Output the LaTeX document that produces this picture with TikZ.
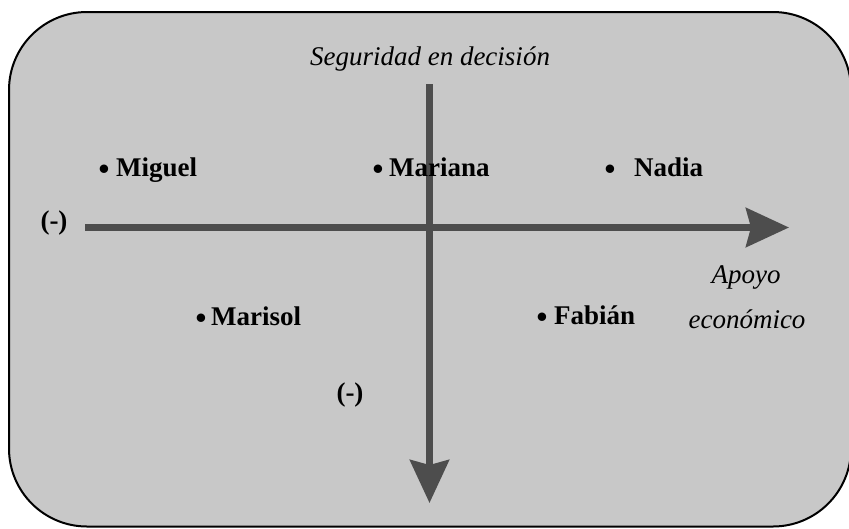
\documentclass[tikz,border=0pt]{standalone}
\usepackage{fontspec}
\setmainfont{Liberation Serif}
\usetikzlibrary{arrows.meta}
\definecolor{bgfill}{HTML}{C8C8C8}
\definecolor{axiscol}{HTML}{4D4D4D}
\begin{document}
\begin{tikzpicture}[x=1pt,y=-1pt,
  axisarrow/.style={draw=axiscol,line width=6.5pt,-{Stealth[length=43pt,width=39pt,inset=5pt,fill=axiscol]}},
  personlbl/.style={inner sep=0pt,anchor=base west,font=\fontsize{27}{32}\selectfont\bfseries},
  minuslbl/.style={inner sep=0pt,anchor=base,font=\fontsize{27}{32}\selectfont\bfseries},
  bulletmark/.style={inner sep=0pt,anchor=base,font=\fontsize{31}{36}\selectfont\bfseries},
  axislbl/.style={inner sep=0pt,anchor=base,font=\fontsize{27}{32}\selectfont\itshape}]
\useasboundingbox (0,0) rectangle (849,528);
\draw[line width=2pt,fill=bgfill,rounded corners=78pt] (9,12) rectangle (851,526.5);
% axes
\coordinate (hstart) at (85,227.5);
\coordinate (hend) at (789,227.5);
\coordinate (vstart) at (429.5,84);
\coordinate (vend) at (429.5,503);
\draw[axisarrow] (hstart) -- (hend);
\draw[axisarrow] (vstart) -- (vend);
% axis labels
\node[axislbl] (ytitle) at (430,65) {Seguridad en decisión};
\node[axislbl] (xtitle1) at (746,283) {Apoyo};
\node[axislbl] (xtitle2) at (747,328) {económico};
\node[minuslbl] (xminus) at (54,229) {(-)};
\node[minuslbl] (yminus) at (350,401) {(-)};
% people
\node[bulletmark] (bmiguel) at (104,179) {•};
\node[personlbl] (miguel) at (116,176) {Miguel};
\node[bulletmark] (bmariana) at (378,179) {•};
\node[personlbl] (mariana) at (389,176) {Mariana};
\node[bulletmark] (bnadia) at (610,179) {•};
\node[personlbl] (nadia) at (634,176) {Nadia};
\node[bulletmark] (bmarisol) at (201,328) {•};
\node[personlbl] (marisol) at (211,325) {Marisol};
\node[bulletmark] (bfabian) at (542,327) {•};
\node[personlbl] (fabian) at (554,324) {Fabián};
\end{tikzpicture}
\end{document}
